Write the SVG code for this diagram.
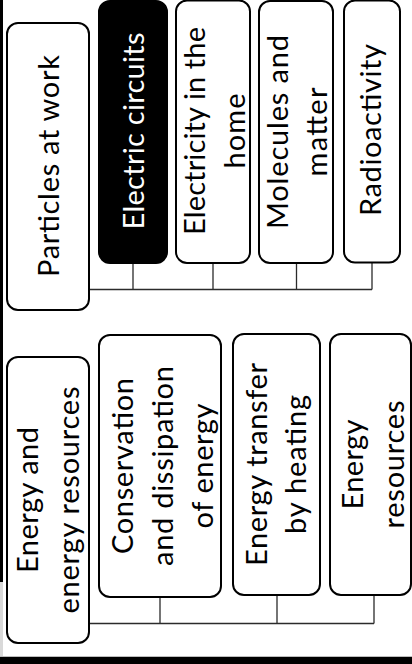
<svg xmlns="http://www.w3.org/2000/svg" width="412" height="664" viewBox="0 0 412 664">
  <style>
    .box { fill: #ffffff; stroke: #000000; stroke-width: 2; }
    .box.dark { fill: #000000; }
    .lbl { font-family: Lato, "Liberation Sans", sans-serif; font-size: 29px; fill: #000000; text-anchor: middle; }
    .lbl.inv { fill: #ffffff; }
    .wire { fill: none; stroke: #2b2b2b; stroke-width: 1.3; }
  </style>

  <!-- page background and frame strips -->
  <rect x="0" y="0" width="412" height="664" fill="#ffffff"/>
  <rect x="0" y="0" width="3" height="582" fill="#000000"/>
  <rect x="0" y="582" width="3" height="74" fill="#d9d9d9"/>
  <rect x="0" y="656" width="412" height="1" fill="#bdbdbd"/>
  <rect x="0" y="657" width="412" height="7" fill="#000000"/>

  <!-- connectors -->
  <g id="connectors">
    <path class="wire" d="M89 289.5 H372 M133 263 V289.5 M213 263 V289.5 M296.5 263 V289.5 M372 262 V289.5"/>
    <path class="wire" d="M89 623.5 H374 M160 597 V623.5 M277 595 V623.5 M374 595 V623.5"/>
  </g>

  <!-- Particles at work -->
  <g id="particles-at-work">
    <rect class="box" x="7" y="23" width="82" height="287" rx="11"/>
    <text class="lbl" transform="translate(59 166) rotate(-90)" textLength="222" lengthAdjust="spacing">Particles at work</text>
  </g>

  <g id="electric-circuits">
    <rect class="box dark" x="99" y="1" width="68" height="262" rx="11"/>
    <text class="lbl inv" transform="translate(144 131) rotate(-90)" textLength="197" lengthAdjust="spacing">Electric circuits</text>
  </g>

  <g id="electricity-in-the-home">
    <rect class="box" x="176" y="0.5" width="74" height="262.5" rx="11"/>
    <text class="lbl" transform="translate(205 131) rotate(-90)" textLength="208" lengthAdjust="spacing">Electricity in the</text>
    <text class="lbl" transform="translate(245 131) rotate(-90)" textLength="75" lengthAdjust="spacing">home</text>
  </g>

  <g id="molecules-and-matter">
    <rect class="box" x="259" y="1" width="74" height="262" rx="11"/>
    <text class="lbl" transform="translate(288 132) rotate(-90)" textLength="194" lengthAdjust="spacing">Molecules and</text>
    <text class="lbl" transform="translate(327 132) rotate(-90)" textLength="89" lengthAdjust="spacing">matter</text>
  </g>

  <g id="radioactivity">
    <rect class="box" x="344" y="0.5" width="56" height="262" rx="11"/>
    <text class="lbl" transform="translate(381 130) rotate(-90)" textLength="172" lengthAdjust="spacing">Radioactivity</text>
  </g>

  <!-- Energy and energy resources -->
  <g id="energy-and-energy-resources">
    <rect class="box" x="7" y="357" width="82" height="286" rx="11"/>
    <text class="lbl" transform="translate(38 500) rotate(-90)" textLength="146" lengthAdjust="spacing">Energy and</text>
    <text class="lbl" transform="translate(79 500) rotate(-90)" textLength="227" lengthAdjust="spacing">energy resources</text>
  </g>

  <g id="conservation-and-dissipation">
    <rect class="box" x="99" y="335" width="122" height="262" rx="11"/>
    <text class="lbl" transform="translate(133 466) rotate(-90)" textLength="176" lengthAdjust="spacing">Conservation</text>
    <text class="lbl" transform="translate(173 466) rotate(-90)" textLength="200" lengthAdjust="spacing">and dissipation</text>
    <text class="lbl" transform="translate(213 466) rotate(-90)" textLength="125" lengthAdjust="spacing">of energy</text>
  </g>

  <g id="energy-transfer-by-heating">
    <rect class="box" x="233" y="334" width="87" height="261" rx="11"/>
    <text class="lbl" transform="translate(267 464.5) rotate(-90)" textLength="203" lengthAdjust="spacing">Energy transfer</text>
    <text class="lbl" transform="translate(306 464.5) rotate(-90)" textLength="139" lengthAdjust="spacing">by heating</text>
  </g>

  <g id="energy-resources">
    <rect class="box" x="330" y="334" width="81" height="261" rx="11"/>
    <text class="lbl" transform="translate(363 464.5) rotate(-90)" textLength="90" lengthAdjust="spacing">Energy</text>
    <text class="lbl" transform="translate(404 464.5) rotate(-90)" textLength="128" lengthAdjust="spacing">resources</text>
  </g>
</svg>
